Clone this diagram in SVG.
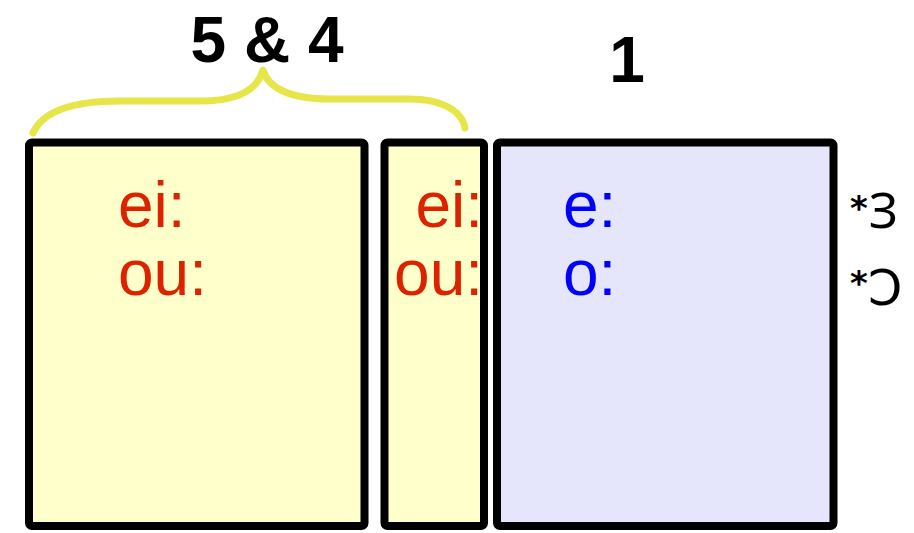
<svg xmlns="http://www.w3.org/2000/svg" width="914" height="533" viewBox="0 0 914 533">
  <style>
    .box { stroke: #000; stroke-width: 8; }
    .diph { fill: #DD2200; font-family: "Liberation Sans", Arial, sans-serif; font-size: 64px; }
    .mono { fill: #0000FF; font-family: "Liberation Sans", Arial, sans-serif; font-size: 64px; }
    .head { fill: #000; font-family: "Liberation Sans", Arial, sans-serif; font-size: 64px; font-weight: bold; text-anchor: middle; }
    .star { fill: #000; font-family: "DejaVu Sans", sans-serif; font-size: 34px; font-weight: bold; }
    .vowel { fill: #000; font-family: "DejaVu Sans", "Noto Sans", sans-serif; font-size: 49px; }
  </style>
  <rect width="914" height="533" fill="#FFFFFF"/>

  <!-- brace over the two diphthong boxes -->
  <g id="brace">
    <path d="M33,133 C45,106 85,101 120,101 L205,101 C240,100 258,88 263,70 C268,88 290,99 330,99 L410,99 C440,99 462,110 465,128"
          fill="none" stroke="#E6E64A" stroke-width="7" stroke-linecap="round" stroke-linejoin="round"/>
  </g>

  <g id="label-54">
    <text class="head" x="267" y="62">5 &amp; 4</text>
  </g>
  <g id="label-1">
    <text class="head" x="627" y="82">1</text>
  </g>

  <g id="box-a">
    <rect class="box" x="29" y="142.5" width="335.5" height="383.5" rx="3" fill="#FFFFCC"/>
    <text class="diph" x="118" y="227">ei:</text>
    <text class="diph" x="118" y="295">ou:</text>
  </g>

  <g id="box-b">
    <rect class="box" x="384.5" y="142.5" width="99.5" height="383.5" rx="3" fill="#FFFFCC"/>
    <text class="diph" x="483" y="227" text-anchor="end">ei:</text>
    <text class="diph" x="483" y="295" text-anchor="end">ou:</text>
  </g>

  <g id="box-c">
    <rect class="box" x="497" y="142.5" width="336.5" height="383.5" rx="3" fill="#E5E5FB"/>
    <text class="mono" x="563" y="227">e:</text>
    <text class="mono" x="563" y="295">o:</text>
  </g>

  <g id="proto-forms">
    <text class="star" x="850" y="220">*</text>
    <text class="vowel" x="869" y="228">Ɜ</text>
    <text class="star" x="850" y="295">*</text>
    <text class="vowel" x="868" y="305">Ɔ</text>
  </g>
</svg>
